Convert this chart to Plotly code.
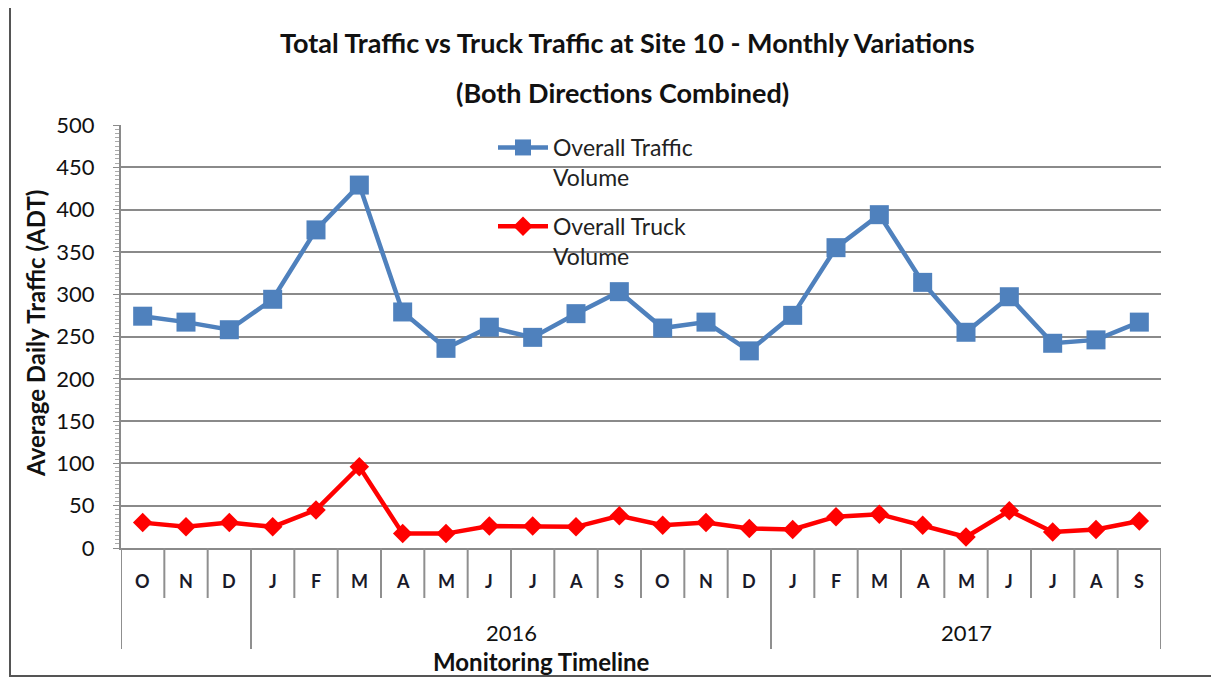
import plotly.graph_objects as go

months = ["O", "N", "D", "J", "F", "M", "A", "M", "J", "J", "A", "S",
          "O", "N", "D", "J", "F", "M", "A", "M", "J", "J", "A", "S"]
years = ["", "", ""] + ["2016"] * 12 + ["2017"] * 9
overall_traffic = [274, 267, 258, 294, 376, 429, 279, 236, 261, 249, 277, 303,
                   260, 267, 233, 275, 355, 394, 314, 255, 297, 242, 246, 267]
overall_truck = [30, 25, 30, 25, 45, 96, 17, 17, 26, 26, 25, 38,
                 27, 30, 23, 22, 37, 40, 27, 13, 44, 19, 22, 32]
y_ticks = list(range(0, 501, 50))

FONT = "Lato, 'Open Sans', sans-serif"
idx = list(range(len(months)))

fig = go.Figure()
fig.add_trace(go.Scatter(
    x=idx, y=overall_traffic, mode="lines+markers",
    name="Overall Traffic<br>Volume", legendgroup="a",
    line=dict(color="#4f81bd", width=4.5),
    marker=dict(symbol="square", size=19, color="#4f81bd"),
))
fig.add_trace(go.Scatter(
    x=idx, y=overall_truck, mode="lines+markers",
    name="Overall Truck<br>Volume", legendgroup="b",
    line=dict(color="#ff0000", width=4.5),
    marker=dict(symbol="diamond", size=15, color="#ff0000"),
))

# page coordinates (body has 8px margin)
OFF = 8
PL, PR, PT, PB = 121, 1161, 125, 548
W, H = 1219 - OFF, 679 - OFF
L, T = PL - OFF, PT - OFF
R, B = W - (PR - OFF), H - (PB - OFF)
pw, ph = PR - PL, PB - PT

def py(p):
    return (PB - p) / ph

def px(p):
    return (p - PL) / pw

shapes = []
annotations = []

group_bounds = [0]
for i in range(1, len(years)):
    if years[i] != years[i - 1]:
        group_bounds.append(i)
group_bounds.append(len(years))

for b in range(len(months) + 1):
    yb = py(649) if b in group_bounds else py(598)
    shapes.append(dict(type="line", xref="x", yref="paper", x0=b - 0.5, x1=b - 0.5,
                       y0=0, y1=yb, line=dict(color="#8f8f8f", width=2)))

for i, m in enumerate(months):
    annotations.append(dict(x=i, y=py(581), xref="x", yref="paper", text="<b>" + m + "</b>",
                            showarrow=False, font=dict(family=FONT, size=18, color="#1a1a2a"),
                            xanchor="center", yanchor="middle"))

for g in range(len(group_bounds) - 1):
    s, e = group_bounds[g], group_bounds[g + 1]
    if years[s]:
        annotations.append(dict(x=(s + e - 1) / 2, y=py(632), xref="x", yref="paper",
                                text=years[s], showarrow=False,
                                font=dict(family=FONT, size=22, color="#111"),
                                xanchor="center", yanchor="middle"))

annotations.append(dict(x=px(541), y=py(661), xref="paper", yref="paper",
                        text="<b>Monitoring Timeline</b>", showarrow=False,
                        font=dict(family=FONT, size=24, color="#111"),
                        xanchor="center", yanchor="middle"))
annotations.append(dict(x=px(627), y=py(43), xref="paper", yref="paper",
                        text="<b>Total Traffic vs Truck Traffic at Site 10 - Monthly Variations</b>",
                        showarrow=False, font=dict(family=FONT, size=27, color="#111"),
                        xanchor="center", yanchor="middle"))
annotations.append(dict(x=px(622), y=py(93), xref="paper", yref="paper",
                        text="<b>(Both Directions Combined)</b>",
                        showarrow=False, font=dict(family=FONT, size=27, color="#111"),
                        xanchor="center", yanchor="middle"))
annotations.append(dict(x=px(35), y=py(334), xref="paper", yref="paper",
                        text="<b>Average Daily Traffic (ADT)</b>", textangle=-90,
                        showarrow=False, font=dict(family=FONT, size=24, color="#111"),
                        xanchor="center", yanchor="middle"))

shapes.append(dict(type="rect", xref="paper", yref="paper",
                   x0=px(10), x1=px(1240), y0=py(676), y1=py(7),
                   line=dict(color="#555", width=2), layer="below"))

fig.update_layout(
    width=W, height=H,
    margin=dict(l=L, r=R, t=T, b=B),
    paper_bgcolor="white", plot_bgcolor="white",
    font=dict(family=FONT, color="#111"),
    showlegend=True,
    legend=dict(x=px(493), y=py(126), xanchor="left", yanchor="top",
                bgcolor="rgba(0,0,0,0)", font=dict(family=FONT, size=23, color="#222"),
                traceorder="grouped", tracegroupgap=16, itemwidth=50, valign="top"),
    shapes=shapes,
    annotations=annotations,
)
fig.update_xaxes(range=[-0.5, len(months) - 0.5], showticklabels=False, showgrid=False,
                 zeroline=False, showline=True, linecolor="#8a8a8a", linewidth=2, ticks="")
fig.update_yaxes(range=[0, 500], tickvals=y_ticks, showgrid=True, gridcolor="#8a8a8a",
                 gridwidth=2, zeroline=False, showline=True, linecolor="#8a8a8a",
                 linewidth=2, ticks="outside", ticklen=6, tickcolor="#8a8a8a",
                 ticklabelstandoff=14,
                 tickfont=dict(family=FONT, size=22, color="#111"),
                 minor=dict(dtick=5, ticks="outside", ticklen=4, tickcolor="#aaa", showgrid=False))

fig.write_html("out.html")
